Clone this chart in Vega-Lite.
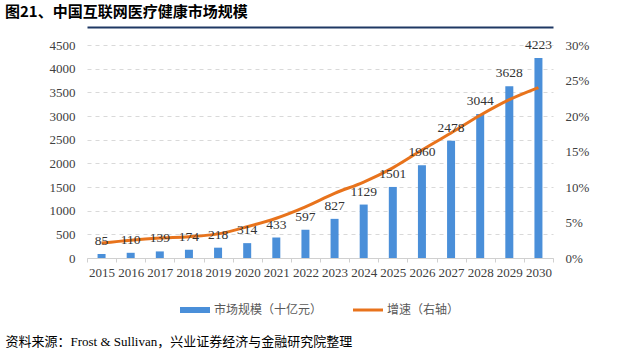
{
  "$schema": "https://vega.github.io/schema/vega-lite/v6.json",
  "autosize": "none",
  "width": 466,
  "height": 213,
  "padding": {"left": 87, "top": 45, "right": 87, "bottom": 93},
  "background": "white",
  "title": {"text": "图21、中国互联网医疗健康市场规模", "anchor": "start", "frame": "group", "dx": -82, "offset": 5, "font": "Noto Sans CJK SC", "fontSize": 15, "fontWeight": "bold", "color": "#000000"},
  "config": {"view": {"stroke": null}},
  "data": {"values": [
    {"year": "2015", "value": 85, "growth": 0.021},
    {"year": "2016", "value": 110, "growth": 0.025},
    {"year": "2017", "value": 139, "growth": 0.028},
    {"year": "2018", "value": 174, "growth": 0.030},
    {"year": "2019", "value": 218, "growth": 0.034},
    {"year": "2020", "value": 314, "growth": 0.044},
    {"year": "2021", "value": 433, "growth": 0.056},
    {"year": "2022", "value": 597, "growth": 0.072},
    {"year": "2023", "value": 827, "growth": 0.091},
    {"year": "2024", "value": 1129, "growth": 0.107},
    {"year": "2025", "value": 1501, "growth": 0.127},
    {"year": "2026", "value": 1960, "growth": 0.152},
    {"year": "2027", "value": 2478, "growth": 0.176},
    {"year": "2028", "value": 3044, "growth": 0.201},
    {"year": "2029", "value": 3628, "growth": 0.223},
    {"year": "2030", "value": 4223, "growth": 0.240}
  ]},
  "layer": [
    {
      "mark": {"type": "bar", "size": 8},
      "encoding": {
        "x": {"field": "year", "type": "ordinal", "scale": {"paddingInner": 0, "paddingOuter": 0},
          "axis": {"orient": "bottom", "labelAngle": 0, "labelFont": "Liberation Serif", "labelFontSize": 13, "labelColor": "#404040", "labelPadding": 4,
            "domainColor": "#d0d0d0", "ticks": true, "tickBand": "extent", "tickColor": "#d0d0d0", "tickSize": 4,
            "title": "资料来源：Frost & Sullivan，兴业证券经济与金融研究院整理", "titleFont": "Liberation Serif, Noto Sans CJK SC", "titleFontSize": 13, "titleFontWeight": "normal", "titleColor": "#000000",
            "titleAnchor": null, "titleAlign": "left", "titleX": -82, "titleY": 87, "titleBaseline": "alphabetic"}},
        "y": {"field": "value", "type": "quantitative", "scale": {"domain": [0, 4500], "nice": false},
          "axis": {"orient": "left", "values": [0, 500, 1000, 1500, 2000, 2500, 3000, 3500, 4000, 4500], "format": "d", "title": null, "domain": false, "ticks": false, "labelPadding": 12,
            "labelFont": "Liberation Serif", "labelFontSize": 13, "labelColor": "#404040", "grid": true, "gridColor": "#d9d9d9", "gridDash": [4, 4]}},
        "color": {"datum": "市场规模（十亿元）", "type": "nominal",
          "scale": {"domain": ["市场规模（十亿元）", "增速（右轴）"], "range": ["#4A8FD9", "#E8731C"]},
          "legend": {"orient": "none", "legendX": 93, "legendY": 250, "direction": "horizontal", "title": null,
            "labelFont": "Noto Sans CJK SC", "labelFontSize": 12, "labelColor": "#595959", "symbolSize": 900, "columnPadding": 30, "labelOffset": 4,
            "encode": {"symbols": {"update": {
              "shape": {"signal": "datum.value === '市场规模（十亿元）' ? 'M-1,-0.2H1V0.2H-1Z' : 'M-1,-0.1H1V0.1H-1Z'"},
              "fill": {"scale": "color", "field": "value"}, "fillOpacity": {"value": 1}, "strokeWidth": {"value": 0}}}}}}
      }
    },
    {
      "mark": {"type": "line", "interpolate": "monotone", "strokeWidth": 3},
      "encoding": {
        "x": {"field": "year", "type": "ordinal", "scale": {"paddingInner": 0, "paddingOuter": 0},
          "axis": {"orient": "top", "offset": 18, "labels": true, "labelOpacity": 0, "labelFontSize": 1, "labelPadding": 0, "ticks": false, "title": null, "domain": true, "domainColor": "#1F3864", "domainWidth": 2}},
        "y": {"field": "growth", "type": "quantitative", "scale": {"domain": [0, 0.3], "nice": false},
          "axis": {"orient": "right", "values": [-0.0986, 0, 0.05, 0.1, 0.15, 0.2, 0.25, 0.3], "format": ".0%", "labelExpr": "datum.value < 0 ? '' : datum.label", "title": null, "domain": false, "ticks": false, "labelPadding": 12,
            "labelFont": "Liberation Serif", "labelFontSize": 13, "labelColor": "#404040",
            "grid": true, "gridWidth": 2, "gridColor": {"condition": {"test": "datum.value < 0", "value": "#1F3864"}, "value": "transparent"}}},
        "color": {"datum": "增速（右轴）", "type": "nominal"}
      }
    },
    {
      "mark": {"type": "text", "baseline": "middle", "dy": -13, "font": "Liberation Serif", "fontSize": 13.5, "color": "#333333"},
      "encoding": {
        "x": {"field": "year", "type": "ordinal", "scale": {"paddingInner": 0, "paddingOuter": 0}, "axis": null},
        "y": {"field": "value", "type": "quantitative", "scale": {"domain": [0, 4500], "nice": false}, "axis": null},
        "text": {"field": "value", "type": "quantitative"}
      }
    }
  ],
  "resolve": {"scale": {"x": "independent", "y": "independent"}, "axis": {"x": "independent", "y": "independent"}}
}
